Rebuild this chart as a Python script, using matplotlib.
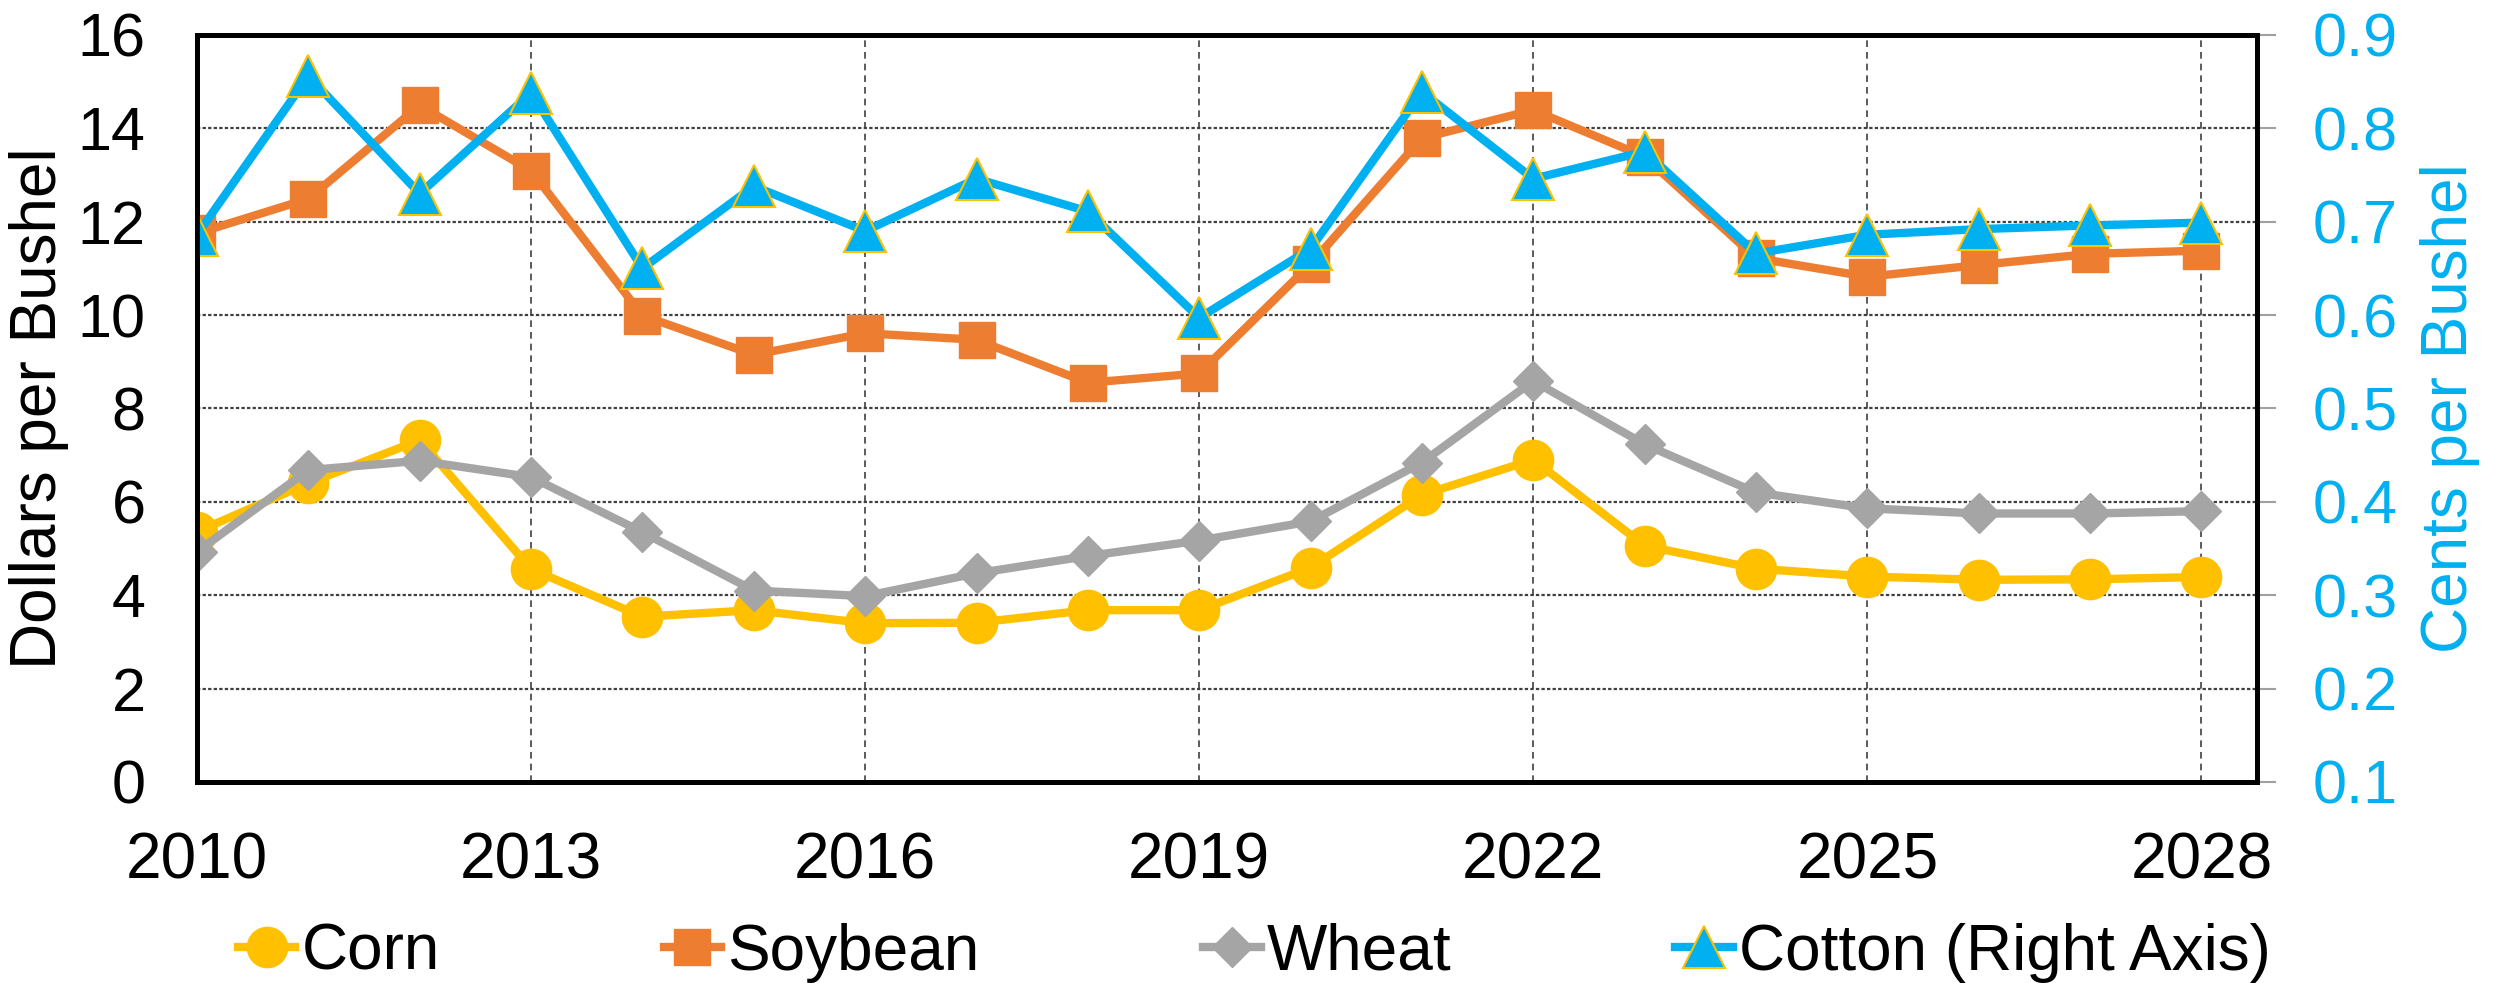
import matplotlib
matplotlib.use("Agg")
import matplotlib.pyplot as plt

plt.rcParams['font.family'] = ['Liberation Sans', 'DejaVu Sans']

years = list(range(2010, 2029))
corn = [5.36, 6.40, 7.32, 4.56, 3.54, 3.68, 3.40, 3.41, 3.68, 3.68,
        4.59, 6.15, 6.90, 5.06, 4.57, 4.40, 4.33, 4.34, 4.39]
soybean = [11.75, 12.49, 14.49, 13.09, 9.99, 9.15, 9.61, 9.47, 8.55, 8.75,
           11.09, 13.79, 14.39, 13.39, 11.22, 10.82, 11.07, 11.31, 11.38]
wheat = [4.93, 6.68, 6.88, 6.53, 5.35, 4.10, 3.98, 4.47, 4.84, 5.17,
         5.58, 6.84, 8.59, 7.23, 6.20, 5.86, 5.75, 5.75, 5.80]
cotton = [0.686, 0.856, 0.730, 0.838, 0.650, 0.738, 0.690, 0.746, 0.711, 0.597,
          0.671, 0.839, 0.746, 0.775, 0.666, 0.686, 0.692, 0.696, 0.699]

left_ticks = [0, 2, 4, 6, 8, 10, 12, 14, 16]
right_ticks = [0.1, 0.2, 0.3, 0.4, 0.5, 0.6, 0.7, 0.8, 0.9]
year_ticks = [2010, 2013, 2016, 2019, 2022, 2025, 2028]

fig = plt.figure(figsize=(24.94, 9.83), dpi=100)
ax = fig.add_axes([0.079, 0.2045, 0.826, 0.760])
ax2 = ax.twinx()
ax2.set_position([0.079, 0.2045, 0.826, 0.760])

l1, = ax.plot(years, corn, color='#FFC000', lw=6, marker='o', ms=29, label='Corn')
l2, = ax.plot(years, soybean, color='#ED7D31', lw=6, marker='s', ms=26, label='Soybean')
l3, = ax.plot(years, wheat, color='#A5A5A5', lw=6, marker='D', ms=20, label='Wheat')
l4, = ax2.plot(years, cotton, color='#00B0F0', lw=6, marker='^', ms=30,
               mec='#FFC000', mew=1.5, label='Cotton (Right Axis)')

ax.set_xlim(2010, 2028.5)
ax.set_ylim(0, 16)
ax2.set_ylim(0.1, 0.9)
ax.set_xticks(year_ticks)
ax.set_yticks(left_ticks)
ax2.set_yticks(right_ticks)
ax2.set_yticklabels([f"{t:.1f}" for t in right_ticks])

ax.yaxis.grid(True, color='#404040', lw=1.6, ls=(0, (1.5, 1)))
ax.xaxis.grid(True, color='#404040', lw=1.2, ls=(0, (4, 3)))
ax.set_axisbelow(True)

ax.tick_params(axis='y', length=0, pad=37, labelsize=44)
ax.tick_params(axis='x', length=0, pad=36, labelsize=46)
ax2.tick_params(axis='y', length=14, width=1.5, color='#A0A0A0', pad=26,
                labelsize=44, labelcolor='#00B0F0')

for a in (ax, ax2):
    for s in a.spines.values():
        s.set_linewidth(3.5)
        s.set_color('black')

ax.set_ylabel('Dollars per Bushel', fontsize=46, labelpad=6)
ax2.set_ylabel('Cents per Bushel', fontsize=46, color='#00B0F0', labelpad=16)

fig.legend(handles=[l1, l2, l3, l4], loc='center', bbox_to_anchor=(0.503, 0.031),
           ncol=4, frameon=False, fontsize=46, handlelength=0.9,
           handletextpad=0.1, columnspacing=3.5, borderaxespad=0)

fig.savefig('out.png', dpi=100)
